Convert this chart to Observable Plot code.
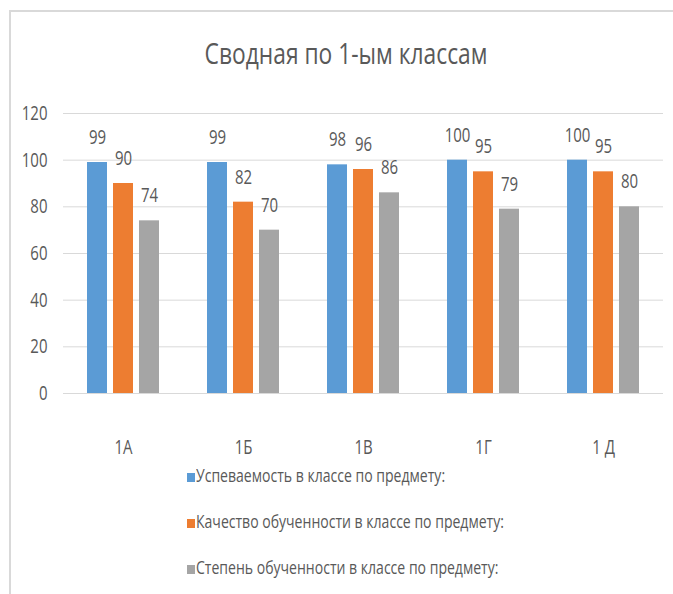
<!DOCTYPE html>
<html>
<head>
<meta charset="utf-8">
<script src="https://cdn.jsdelivr.net/npm/d3@7"></script>
<script src="https://cdn.jsdelivr.net/npm/@observablehq/plot@0.6"></script>
<style>
  html, body { margin: 0; padding: 0; background: #fff; }
  #wrap { position: relative; width: 673px; height: 594px; overflow: hidden; background: #fff;
          font-family: "Open Sans", "Noto Sans", sans-serif; color: #595959; }
  #frame { position: absolute; left: 9px; top: 10px; width: 700px; height: 600px;
           border-top: 2px solid #d9d9d9; border-left: 2px solid #d9d9d9; box-sizing: border-box; }
  #title { position: absolute; left: 0; width: 692px; top: 38px; text-align: center; font-size: 30px; line-height: 30px; white-space: nowrap;
           transform: scaleX(0.76); transform-origin: 346px 0; }
  #chart { position: absolute; left: 0; top: 95px; }
  .leg { position: absolute; left: 196px; font-size: 18px; line-height: 18px; white-space: nowrap;
         transform: scaleX(0.78); transform-origin: 0 0; }
  .sw { position: absolute; left: 187px; width: 8px; height: 9px; }
</style>
</head>
<body>
<div id="wrap">
  <div id="frame"></div>
  <div id="title"></div>
  <div id="chart"></div>
  <div id="legend"></div>
</div>
<script>
const titleText = "Сводная по 1-ым классам";
const classes = ["1А", "1Б", "1В", "1Г", "1 Д"];
const seriesNames = [
  "Успеваемость в классе по предмету:",
  "Качество обученности в классе по предмету:",
  "Степень обученности в классе по предмету:"
];
const uspevaemost = [99, 99, 98, 100, 100];
const kachestvo = [90, 82, 96, 95, 95];
const stepen = [74, 70, 86, 79, 80];
const yTicks = [0, 20, 40, 60, 80, 100, 120];
const colors = ["#5b9bd5", "#ed7d31", "#a5a5a5"];
const narrow = 0.75;

const seriesValues = [uspevaemost, kachestvo, stepen];
const data = [];
classes.forEach((c, i) => {
  seriesNames.forEach((s, j) => {
    data.push({cls: c, series: s, value: seriesValues[j][i]});
  });
});

document.getElementById("title").textContent = titleText;

const chart = Plot.plot({
  width: 673,
  height: 370,
  marginLeft: 63,
  marginRight: 10,
  marginTop: 18,
  marginBottom: 72,
  style: {
    fontFamily: '"Open Sans", "Noto Sans", sans-serif',
    fontSize: "20px",
    color: "#595959",
    background: "transparent",
    overflow: "visible"
  },
  fx: {domain: classes, padding: 0, label: null, tickSize: 0, tickPadding: 46},
  x: {domain: seriesNames, paddingInner: 0.226, paddingOuter: 0.877, axis: null},
  y: {domain: [0, 120], ticks: yTicks, tickSize: 0, tickPadding: 16, label: null},
  color: {domain: seriesNames, range: colors},
  marks: [
    Plot.ruleY(yTicks, {stroke: "#d9d9d9", strokeWidth: 1}),
    Plot.barY(data, {fx: "cls", x: "series", y: "value", fill: "series"}),
    Plot.text(data, {fx: "cls", x: "series", y: "value", text: d => String(d.value), dy: -25, fill: "#595959", fontSize: 20})
  ]
});
document.getElementById("chart").appendChild(chart);

// Horizontally condense all SVG text around its anchor point (mimics the narrow reference type)
const svgNS = "http://www.w3.org/2000/svg";
const svgRoot = chart.tagName.toLowerCase() === "svg" ? chart : chart.querySelector("svg");
Array.from(svgRoot.querySelectorAll("text")).forEach(t => {
  const bb = t.getBBox();
  const cons = t.transform && t.transform.baseVal && t.transform.baseVal.consolidate();
  const e = cons ? cons.matrix.e : 0;
  const anchor = getComputedStyle(t).textAnchor;
  const lx = anchor === "end" ? bb.x + bb.width : anchor === "middle" ? bb.x + bb.width / 2 : bb.x;
  const px = lx + e;
  const g = document.createElementNS(svgNS, "g");
  t.parentNode.insertBefore(g, t);
  g.appendChild(t);
  g.setAttribute("transform", `translate(${px},0) scale(${narrow},1) translate(${-px},0)`);
});

const legend = document.getElementById("legend");
const baseTops = [466, 512, 558];
seriesNames.forEach((s, j) => {
  const sw = document.createElement("div");
  sw.className = "sw";
  sw.style.top = (baseTops[j] + 7) + "px";
  sw.style.background = colors[j];
  legend.appendChild(sw);
  const t = document.createElement("div");
  t.className = "leg";
  t.style.top = baseTops[j] + "px";
  t.textContent = s;
  legend.appendChild(t);
});
</script>
</body>
</html>
